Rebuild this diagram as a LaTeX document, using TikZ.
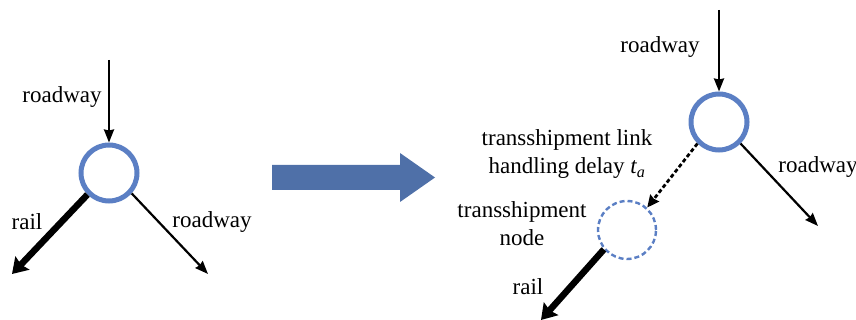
\documentclass[tikz,border=0pt]{standalone}
\usepackage{fontspec}
\setmainfont{Liberation Serif}
\usetikzlibrary{arrows.meta}
\definecolor{NodeBlue}{RGB}{91,127,196}
\definecolor{ShiftBlue}{RGB}{79,112,168}
\tikzset{
	junction/.style={circle, draw=NodeBlue, line width=5pt, minimum size=56pt, inner sep=0pt},
	ghostnode/.style={circle, draw=NodeBlue, dashed, dash pattern=on 5pt off 3pt, line width=2.4pt, minimum size=58pt, inner sep=0pt},
	road/.style={black, line width=2.2pt, -{Stealth[length=13pt, width=10pt, inset=1pt]}},
	railway/.style={black, line width=6.5pt, -{Stealth[length=15pt, width=19pt, inset=2pt]}},
	shiftlink/.style={black, line width=2.8pt, dash pattern=on 4pt off 2.5pt, -{Stealth[length=12pt, width=11pt, inset=1pt]}},
	lbl/.style={font=\fontsize{23}{28}\selectfont, align=center, inner sep=0pt},
}
\begin{document}
\begin{tikzpicture}[x=1pt, y=-1pt]
	\useasboundingbox (0,0) rectangle (856,320);

	% single intermodal node
	\node[junction] (lnode) at (109,173) {};
	\coordinate (lin) at (109,60);
	\coordinate (lrail) at (12,274);
	\coordinate (lroad) at (208,274);
	\draw[road] (lin) -- (lnode);
	\draw[railway] (lnode.-135) -- (lrail);
	\draw[road] (lnode.-42) -- (lroad);
	\node[lbl] (lroadin) at (62,97) {roadway};
	\node[lbl] (lrailtxt) at (27,222) {rail};
	\node[lbl] (lroadout) at (212,222) {roadway};

	% transformation arrow
	\fill[ShiftBlue] (272,165) -- (400,165) -- (400,153) -- (435,177.5)
		-- (400,202) -- (400,190) -- (272,190) -- cycle;

	% split node with transshipment link
	\node[junction] (rtop) at (719,122) {};
	\node[ghostnode] (rtrans) at (627,230) {};
	\coordinate (rin) at (719,10);
	\coordinate (rroad) at (818,226);
	\coordinate (rrail) at (541,320);
	\draw[road] (rin) -- (rtop);
	\draw[road] (rtop.-45) -- (rroad);
	\draw[shiftlink] (rtop.-135) -- (rtrans.48);
	\draw[railway] (rtrans.-140) -- (rrail);
	\node[lbl] (rroadin) at (660,47) {roadway};
	\node[lbl] (rroadout) at (818,167) {roadway};
	\node[lbl] (linktxt) at (567,154) {transshipment link\\handling delay \textit{t\textsubscript{a}}};
	\node[lbl] (transtxt) at (522,224) {transshipment\\node};
	\node[lbl] (rrailtxt) at (528,287) {rail};

\end{tikzpicture}
\end{document}
